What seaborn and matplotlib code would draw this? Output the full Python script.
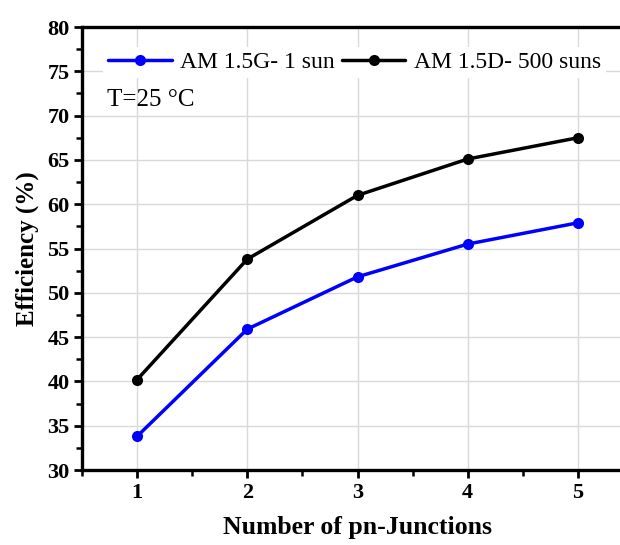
import matplotlib
matplotlib.use("Agg")
import matplotlib.pyplot as plt
import seaborn as sns
import pandas as pd
from matplotlib.ticker import MultipleLocator

junctions = [1, 2, 3, 4, 5]
eff_1sun = [33.8, 45.9, 51.8, 55.5, 57.9]
eff_500suns = [40.2, 53.8, 61.0, 65.1, 67.5]
series_names = ["AM 1.5G- 1 sun", "AM 1.5D- 500 suns"]

df = pd.DataFrame({
    "x": junctions * 2,
    "y": eff_1sun + eff_500suns,
    "series": [series_names[0]] * 5 + [series_names[1]] * 5,
})

sns.set_style("ticks")
plt.rcParams["font.family"] = ["Liberation Serif", "DejaVu Serif"]
plt.rcParams["text.color"] = "black"
plt.rcParams["axes.labelcolor"] = "black"
plt.rcParams["xtick.color"] = "black"
plt.rcParams["ytick.color"] = "black"

fig = plt.figure(figsize=(6.2, 5.45), dpi=100)
ax = fig.add_axes([82 / 620, 1 - 470 / 545, (633 - 82) / 620, (470 - 27) / 545])

palette = {series_names[0]: "#0000FF", series_names[1]: "#000000"}
sns.lineplot(data=df, x="x", y="y", hue="series", palette=palette,
             marker="o", markersize=8, linewidth=2.5, markeredgewidth=0,
             ax=ax, legend=True)

ax.set_xlim(0.5, 5.5)
ax.set_ylim(30, 80)
ax.xaxis.set_major_locator(MultipleLocator(1))
ax.xaxis.set_minor_locator(MultipleLocator(0.5))
ax.yaxis.set_major_locator(MultipleLocator(5))
ax.yaxis.set_minor_locator(MultipleLocator(2.5))
ax.grid(True, which="major", color="#d9d9d9", linewidth=1.0)
ax.set_axisbelow(True)

for s in ["left", "bottom", "top", "right"]:
    ax.spines[s].set_linewidth(2.4)
    ax.spines[s].set_color("black")

ax.tick_params(which="major", direction="out", length=6, width=2, labelsize=16, pad=3)
ax.tick_params(which="minor", direction="out", length=4, width=1.8)
ax.tick_params(axis="y", which="both", right=False)
ax.tick_params(axis="x", which="both", top=False)
for lab in ax.get_xticklabels() + ax.get_yticklabels():
    lab.set_fontweight("bold")

ax.set_xlabel("Number of pn-Junctions", fontsize=18.5, fontweight="bold", labelpad=10)
ax.set_ylabel("Efficiency (%)", fontsize=18, fontweight="bold", labelpad=6)

leg = ax.legend(loc="upper left", bbox_to_anchor=(0.03, 0.965), ncol=2,
                fontsize=17, handlelength=2.7, handletextpad=0.35,
                columnspacing=0.3, frameon=True, borderaxespad=0.2,
                borderpad=0.2)
leg.get_frame().set_edgecolor("none")
leg.get_frame().set_facecolor("white")
leg.get_frame().set_alpha(1)

ax.text(0.045, 0.835, "T=25 °C", transform=ax.transAxes, fontsize=18,
        va="center", ha="left")

fig.savefig("out.png", dpi=100)
